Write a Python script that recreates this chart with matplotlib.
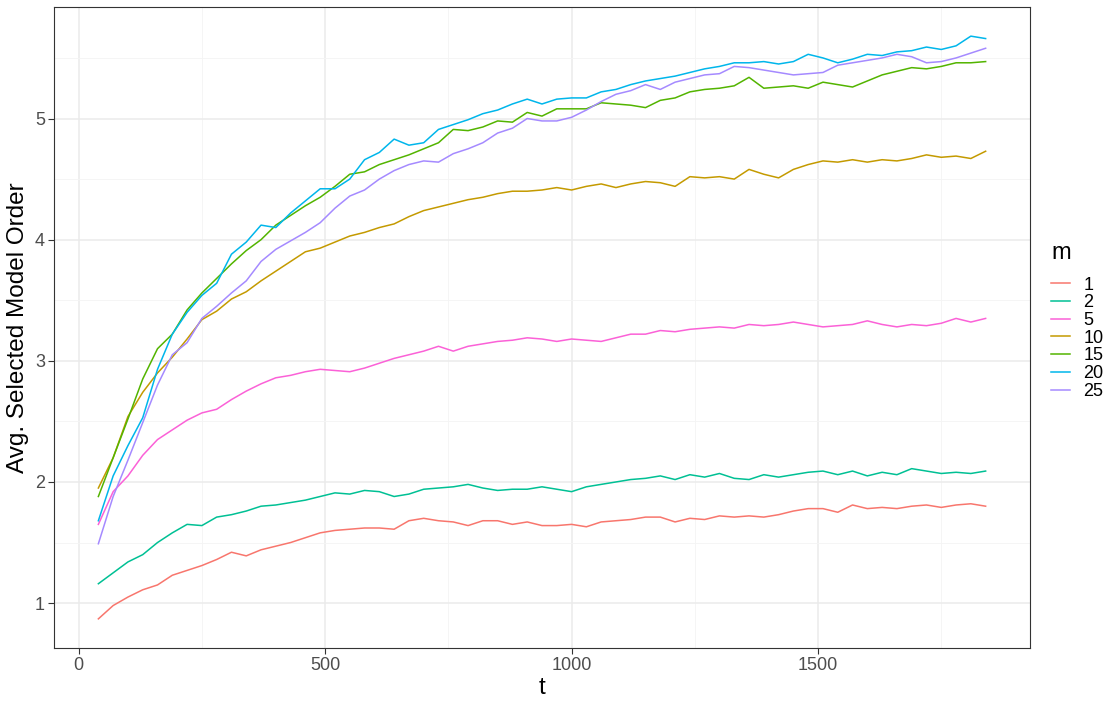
import numpy as np
import matplotlib
matplotlib.use("Agg")
import matplotlib.pyplot as plt
from matplotlib.ticker import MultipleLocator

plt.rcParams['font.family'] = ['Liberation Sans', 'DejaVu Sans']

# time grid (every 30 steps)
t = np.arange(40, 1841, 30)

m_levels = ['1', '2', '5', '10', '15', '20', '25']
colors = ['#F8766D', '#00C094', '#FB61D7', '#C49A00', '#53B400', '#00B6EB', '#A58AFF']

m1 = [0.87, 0.98, 1.05, 1.11, 1.15, 1.23, 1.27, 1.31, 1.36, 1.42, 1.39, 1.44, 1.47, 1.50, 1.54,
      1.58, 1.60, 1.61, 1.62, 1.62, 1.61, 1.68, 1.70, 1.68, 1.67, 1.64, 1.68, 1.68, 1.65, 1.67,
      1.64, 1.64, 1.65, 1.63, 1.67, 1.68, 1.69, 1.71, 1.71, 1.67, 1.70, 1.69, 1.72, 1.71, 1.72,
      1.71, 1.73, 1.76, 1.78, 1.78, 1.75, 1.81, 1.78, 1.79, 1.78, 1.80, 1.81, 1.79, 1.81, 1.82, 1.80]
m2 = [1.16, 1.25, 1.34, 1.40, 1.50, 1.58, 1.65, 1.64, 1.71, 1.73, 1.76, 1.80, 1.81, 1.83, 1.85,
      1.88, 1.91, 1.90, 1.93, 1.92, 1.88, 1.90, 1.94, 1.95, 1.96, 1.98, 1.95, 1.93, 1.94, 1.94,
      1.96, 1.94, 1.92, 1.96, 1.98, 2.00, 2.02, 2.03, 2.05, 2.02, 2.06, 2.04, 2.07, 2.03, 2.02,
      2.06, 2.04, 2.06, 2.08, 2.09, 2.06, 2.09, 2.05, 2.08, 2.06, 2.11, 2.09, 2.07, 2.08, 2.07, 2.09]
m5 = [1.65, 1.92, 2.05, 2.22, 2.35, 2.43, 2.51, 2.57, 2.60, 2.68, 2.75, 2.81, 2.86, 2.88, 2.91,
      2.93, 2.92, 2.91, 2.94, 2.98, 3.02, 3.05, 3.08, 3.12, 3.08, 3.12, 3.14, 3.16, 3.17, 3.19,
      3.18, 3.16, 3.18, 3.17, 3.16, 3.19, 3.22, 3.22, 3.25, 3.24, 3.26, 3.27, 3.28, 3.27, 3.30,
      3.29, 3.30, 3.32, 3.30, 3.28, 3.29, 3.30, 3.33, 3.30, 3.28, 3.30, 3.29, 3.31, 3.35, 3.32, 3.35]
m10 = [1.95, 2.20, 2.54, 2.74, 2.90, 3.03, 3.18, 3.34, 3.41, 3.51, 3.57, 3.66, 3.74, 3.82, 3.90,
       3.93, 3.98, 4.03, 4.06, 4.10, 4.13, 4.19, 4.24, 4.27, 4.30, 4.33, 4.35, 4.38, 4.40, 4.40,
       4.41, 4.43, 4.41, 4.44, 4.46, 4.43, 4.46, 4.48, 4.47, 4.44, 4.52, 4.51, 4.52, 4.50, 4.58,
       4.54, 4.51, 4.58, 4.62, 4.65, 4.64, 4.66, 4.64, 4.66, 4.65, 4.67, 4.70, 4.68, 4.69, 4.67, 4.73]
m15 = [1.88, 2.20, 2.52, 2.85, 3.10, 3.22, 3.42, 3.56, 3.68, 3.80, 3.91, 4.00, 4.12, 4.20, 4.28,
       4.35, 4.44, 4.54, 4.56, 4.62, 4.66, 4.70, 4.75, 4.80, 4.91, 4.90, 4.93, 4.98, 4.97, 5.05,
       5.02, 5.08, 5.08, 5.08, 5.13, 5.12, 5.11, 5.09, 5.15, 5.17, 5.22, 5.24, 5.25, 5.27, 5.34,
       5.25, 5.26, 5.27, 5.25, 5.30, 5.28, 5.26, 5.31, 5.36, 5.39, 5.42, 5.41, 5.43, 5.46, 5.46, 5.47]
m20 = [1.68, 2.05, 2.30, 2.53, 2.93, 3.22, 3.40, 3.54, 3.64, 3.88, 3.98, 4.12, 4.10, 4.22, 4.32,
       4.42, 4.42, 4.50, 4.66, 4.72, 4.83, 4.78, 4.80, 4.91, 4.95, 4.99, 5.04, 5.07, 5.12, 5.16,
       5.12, 5.16, 5.17, 5.17, 5.22, 5.24, 5.28, 5.31, 5.33, 5.35, 5.38, 5.41, 5.43, 5.46, 5.46,
       5.47, 5.45, 5.47, 5.53, 5.50, 5.46, 5.49, 5.53, 5.52, 5.55, 5.56, 5.59, 5.57, 5.60, 5.68, 5.66]
m25 = [1.49, 1.88, 2.18, 2.49, 2.80, 3.05, 3.15, 3.35, 3.45, 3.56, 3.66, 3.82, 3.92, 3.99, 4.06,
       4.14, 4.26, 4.36, 4.41, 4.50, 4.57, 4.62, 4.65, 4.64, 4.71, 4.75, 4.80, 4.88, 4.92, 5.00,
       4.98, 4.98, 5.01, 5.07, 5.14, 5.20, 5.23, 5.28, 5.24, 5.30, 5.33, 5.36, 5.37, 5.43, 5.42,
       5.40, 5.38, 5.36, 5.37, 5.38, 5.44, 5.46, 5.48, 5.50, 5.53, 5.51, 5.46, 5.47, 5.50, 5.54, 5.58]

series = [m1, m2, m5, m10, m15, m20, m25]

fig = plt.figure(figsize=(11.13, 7.04), dpi=100)
ax = fig.add_axes([54 / 1113, 1 - 648 / 704, (1030 - 54) / 1113, (648 - 7) / 704])

for lab, col, y in zip(m_levels, colors, series):
    ax.plot(t, y, color=col, lw=1.1, label=lab)

# ggplot-like expanded limits
span = t[-1] - t[0]
ax.set_xlim(t[0] - 0.05 * span, t[-1] + 0.05 * span)
ymin = min(min(s) for s in series)
ymax = max(max(s) for s in series)
ax.set_ylim(ymin - 0.05 * (ymax - ymin), ymax + 0.05 * (ymax - ymin))

ax.xaxis.set_major_locator(MultipleLocator(500))
ax.xaxis.set_minor_locator(MultipleLocator(250))
ax.yaxis.set_major_locator(MultipleLocator(1))
ax.yaxis.set_minor_locator(MultipleLocator(0.5))
ax.grid(which='major', color='#EBEBEB', lw=1.1)
ax.grid(which='minor', color='#F4F4F4', lw=0.6)
ax.set_axisbelow(True)
for s in ax.spines.values():
    s.set_color('#333333')
    s.set_linewidth(0.8)
ax.tick_params(which='major', length=4, width=0.8, color='#333333',
               labelcolor='#4D4D4D', labelsize=13, pad=2.5)
ax.tick_params(which='minor', length=0)

ax.set_xlabel('t', fontsize=17.5, labelpad=2)
ax.set_ylabel('Avg. Selected Model Order', fontsize=17.5, labelpad=4)

leg = fig.legend(loc='upper left', bbox_to_anchor=(1051 / 1113, 1 - 242 / 704),
                 frameon=False, title='m', fontsize=13, title_fontsize=17,
                 handlelength=1.05, labelspacing=0.04, handletextpad=0.75,
                 borderpad=0, borderaxespad=0, alignment='left')
leg._legend_box.sep = 9

fig.savefig('out.png', dpi=100)
